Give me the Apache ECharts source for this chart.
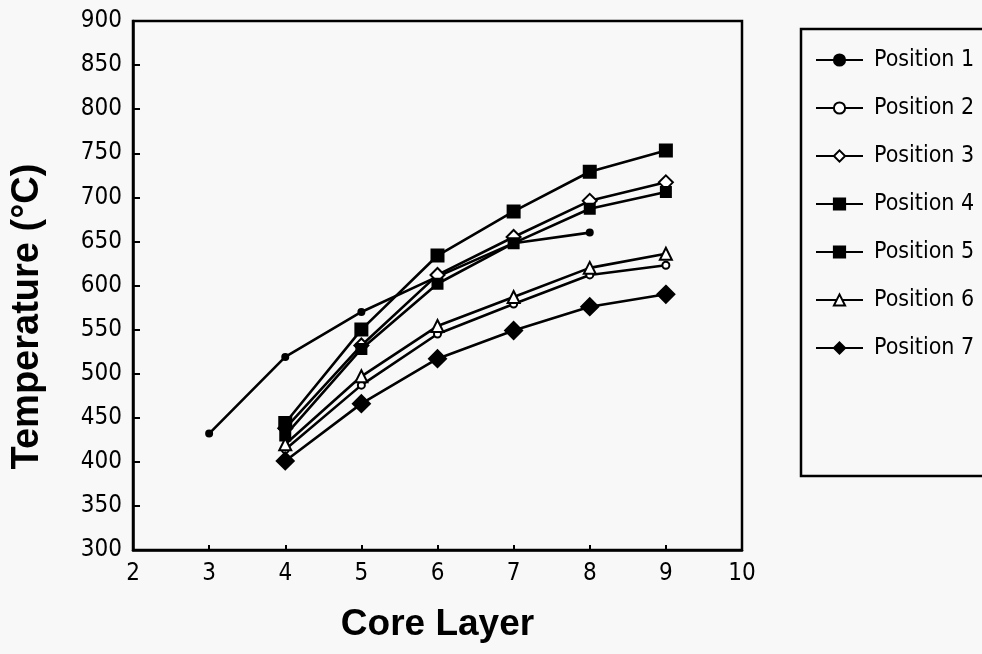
<!DOCTYPE html>
<html><head><meta charset="utf-8">
<script src="https://cdn.jsdelivr.net/npm/echarts@6/dist/echarts.min.js"></script>
<style>html,body{margin:0;padding:0;background:#f8f8f8;}#c{width:982px;height:654px;}</style>
</head><body><div id="c"></div>
<script>
const layers = [3, 4, 5, 6, 7, 8, 9];
const pos1 = [432, 519, 570, 610, 648, 660, null];
const pos2 = [null, 414, 487, 545, 579, 612, 623];
const pos3 = [null, 438, 532, 612, 655, 696, 717];
const pos4 = [null, 430, 528, 602, 648, 687, 706];
const pos5 = [null, 444, 550, 634, 684, 729, 753];
const pos6 = [null, 420, 497, 554, 587, 620, 636];
const pos7 = [null, 401, 466, 517, 549, 576, 590];
const names = ['Position 1','Position 2','Position 3','Position 4','Position 5','Position 6','Position 7'];
const yTicks = {min: 300, max: 900, step: 50};
const xTicks = {min: 2, max: 10, step: 1};

const narrow = '"Liberation Sans Narrow","DejaVu Sans Condensed","Arial Narrow",sans-serif';
const bold = '"Liberation Sans",Arial,sans-serif';
const sets = [pos1,pos2,pos3,pos4,pos5,pos6,pos7];
const sym = [
  {s:'circle', z:6, f:'#000'},
  {s:'circle', z:7, f:'#fff'},
  {s:'diamond', z:14, f:'#fff'},
  {s:'rect', z:10, f:'#000'},
  {s:'rect', z:12, f:'#000'},
  {s:'triangle', z:12, f:'#fff'},
  {s:'diamond', z:17, f:'#000'}
];
const series = sets.map((arr,i)=>({
  name: names[i], type:'line',
  data: layers.map((x,j)=>arr[j]==null?null:[x,arr[j]]).filter(d=>d),
  symbol: sym[i].s, symbolSize: sym[i].z,
  lineStyle:{color:'#000', width:2.6},
  itemStyle:{color:sym[i].f, borderColor:'#000', borderWidth:2},
  animation:false
}));
const chart = echarts.init(document.getElementById('c'));
chart.setOption({
  backgroundColor:'#f8f8f8',
  animation:false,
  grid:{left:133, right:240, top:21, bottom:104, show:true, borderColor:'#000', borderWidth:2.5, backgroundColor:'transparent'},
  xAxis:{type:'value', min:xTicks.min, max:xTicks.max, interval:xTicks.step,
    name:'Core Layer', nameLocation:'middle', nameGap:56,
    nameTextStyle:{fontFamily:bold, fontWeight:'bold', fontSize:37, color:'#000'},
    axisLine:{lineStyle:{color:'#000', width:2.5}},
    axisTick:{inside:true, length:5, lineStyle:{color:'#000', width:2}},
    axisLabel:{fontFamily:narrow, fontSize:24, color:'#000', margin:12},
    splitLine:{show:false}},
  yAxis:{type:'value', min:yTicks.min, max:yTicks.max, interval:yTicks.step,
    name:'Temperature (°C)', nameLocation:'middle', nameGap:86,
    nameTextStyle:{fontFamily:bold, fontWeight:'bold', fontSize:38, color:'#000', padding:[0,62,0,0]},
    axisLine:{lineStyle:{color:'#000', width:2.5}},
    axisTick:{inside:true, length:7, lineStyle:{color:'#000', width:2}},
    axisLabel:{fontFamily:narrow, fontSize:24, color:'#000', margin:11},
    splitLine:{show:false}},
  legend:{orient:'vertical', left:801, top:29, data:names,
    borderColor:'#000', borderWidth:2.5, padding:[19,80,116,14],
    itemWidth:47, itemHeight:14, itemGap:24,
    textStyle:{fontFamily:narrow, fontSize:23, color:'#000', lineHeight:24, padding:[0,0,0,6]}},
  series: series
});
</script></body></html>
